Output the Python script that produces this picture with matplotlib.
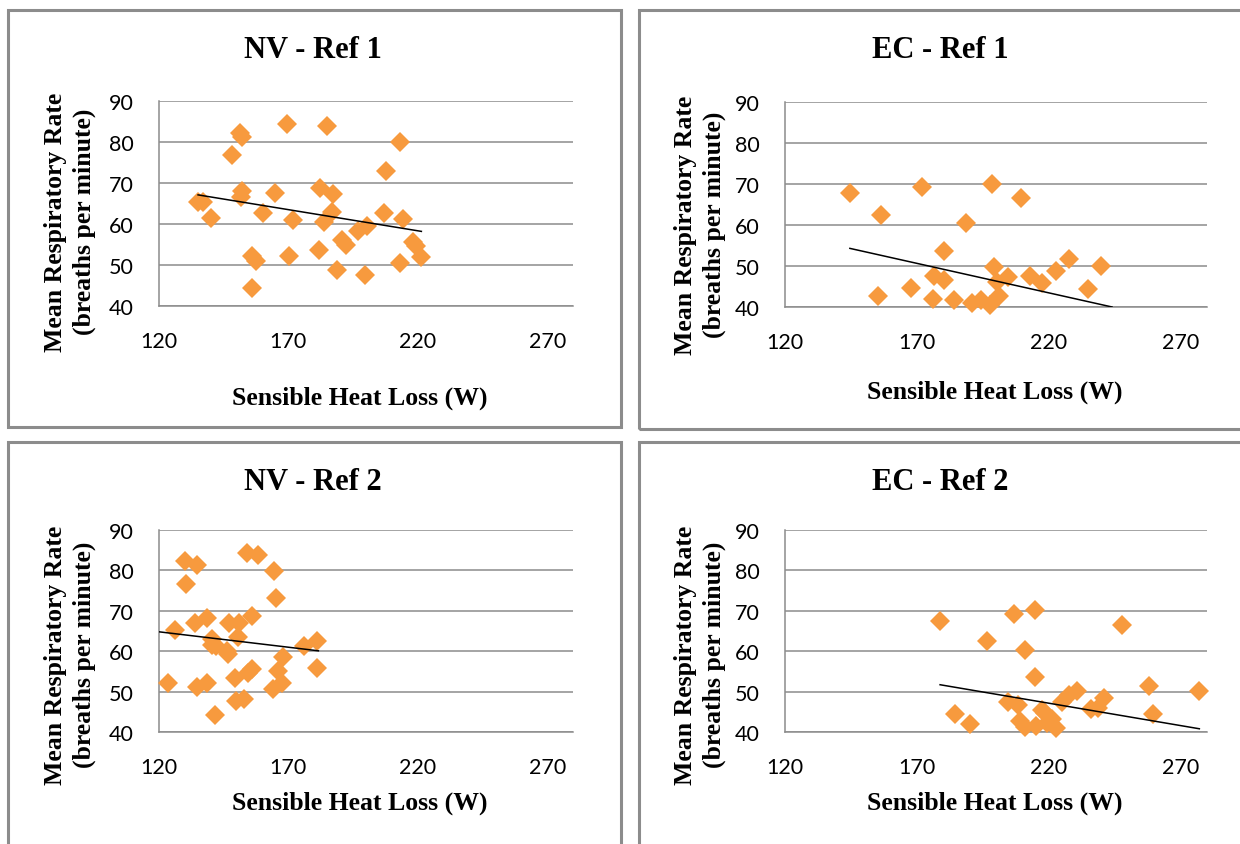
import matplotlib
matplotlib.use("Agg")
import matplotlib.pyplot as plt
from matplotlib.patches import Rectangle

# NV - Ref 1
nv1_x = [135.1, 137.1, 140.0, 151.3, 151.9, 148.3, 152.2, 151.7, 156.0, 157.3,
         156.0, 160.0, 165.0, 169.4, 170.4, 171.7, 181.9, 182.3, 184.9, 187.4,
         186.8, 183.6, 188.7, 190.7, 192.4, 196.9, 200.4, 199.5, 206.8, 207.9,
         213.0, 214.3, 213.0, 218.2, 219.5, 221.4]
nv1_y = [65.3, 65.3, 61.4, 82.3, 81.1, 76.8, 68.1, 66.5, 52.3, 50.9,
         44.5, 62.6, 67.5, 84.3, 52.1, 61.0, 53.7, 68.8, 83.8, 67.3,
         62.9, 60.6, 48.7, 56.0, 55.0, 58.2, 59.4, 47.6, 62.7, 73.0,
         79.9, 61.2, 50.5, 55.7, 54.6, 51.9]
nv1_trend_x = [135.1, 221.4]
nv1_trend_y = [67.1, 58.2]

# EC - Ref 1
ec1_x = [144.6, 156.5, 155.2, 167.7, 171.8, 180.2, 176.6, 180.2, 176.0, 183.9,
         188.7, 190.9, 194.4, 197.6, 198.6, 199.1, 200.2, 201.0, 204.6, 209.4,
         212.9, 217.3, 222.8, 227.5, 234.8, 239.7]
ec1_y = [67.7, 62.5, 42.8, 44.6, 69.2, 53.6, 47.5, 46.5, 42.0, 41.6,
         60.4, 41.0, 41.6, 40.4, 70.0, 49.7, 46.1, 42.8, 47.3, 66.5,
         47.5, 45.8, 48.7, 51.8, 44.5, 50.0]
ec1_trend_x = [144.6, 244.0]
ec1_trend_y = [54.3, 40.0]

# NV - Ref 2
nv2_x = [123.5, 126.1, 129.9, 134.5, 130.6, 133.8, 138.7, 134.5, 138.7, 141.8,
         140.6, 140.3, 142.2, 146.1, 147.1, 146.7, 150.9, 150.6, 149.4, 149.8,
         152.9, 156.0, 153.9, 158.4, 154.5, 155.8, 164.6, 165.1, 163.9, 166.1,
         167.7, 168.0, 176.1, 181.0, 181.0]
nv2_y = [52.1, 65.2, 82.4, 81.4, 76.6, 66.9, 68.2, 51.2, 52.1, 44.2,
         63.0, 61.5, 61.3, 60.1, 67.1, 59.3, 66.9, 63.4, 53.3, 47.7,
         48.1, 68.8, 84.3, 83.8, 54.7, 55.7, 79.8, 73.1, 50.7, 55.1,
         52.1, 58.6, 61.3, 62.6, 55.8]
nv2_trend_x = [120.0, 181.6]
nv2_trend_y = [64.8, 60.1]

# EC - Ref 2
ec2_x = [178.8, 184.6, 190.3, 196.4, 206.9, 214.6, 211.1, 214.6, 204.7, 208.5,
         209.2, 211.1, 215.0, 217.3, 218.6, 221.4, 222.6, 219.5, 224.9, 227.5,
         230.9, 236.0, 238.6, 241.1, 247.9, 258.1, 259.6, 277.1]
ec2_y = [67.4, 44.4, 41.9, 62.6, 69.2, 70.2, 60.3, 53.7, 47.4, 46.6,
         42.7, 41.3, 41.5, 45.5, 44.6, 43.1, 41.1, 42.3, 47.4, 49.1,
         50.2, 45.8, 46.0, 48.3, 66.4, 51.4, 44.4, 50.2]
ec2_trend_x = [178.8, 277.1]
ec2_trend_y = [51.7, 40.8]

titles = ["NV - Ref 1", "EC - Ref 1", "NV - Ref 2", "EC - Ref 2"]
xticks = [120, 170, 220, 270]
yticks = [40, 50, 60, 70, 80, 90]

W, H = 1240, 845
fig = plt.figure(figsize=(W / 100, H / 100), dpi=100)
fig.patch.set_facecolor("white")


def fx(px):
    return px / W


def fy(py):
    return 1 - py / H


# panel frames: left, top, right, bottom in pixels
frames = [(8, 11, 621, 428), (639, 11, 1250, 430),
          (8, 443, 621, 860), (639, 443, 1250, 860)]
for l, t, r, b in frames:
    fig.patches.append(Rectangle((fx(l), fy(b)), fx(r - l), (b - t) / H,
                                 transform=fig.transFigure, fill=False,
                                 edgecolor="#8c8c8c", linewidth=2.2))

# plot areas: left, top, right, bottom in pixels
areas = [(159, 102, 573, 307), (785, 103, 1207, 308),
         (159, 531, 573, 733), (785, 531, 1207, 733)]
series = [(nv1_x, nv1_y, nv1_trend_x, nv1_trend_y),
          (ec1_x, ec1_y, ec1_trend_x, ec1_trend_y),
          (nv2_x, nv2_y, nv2_trend_x, nv2_trend_y),
          (ec2_x, ec2_y, ec2_trend_x, ec2_trend_y)]
title_pos = [(313, 50), (940, 50), (313, 482), (940, 482)]
xlabel_pos = [(360, 398), (995, 392), (360, 803), (995, 803)]
ylabel_pos = [(70, 222), (700, 225), (70, 655), (700, 655)]

serif = "Liberation Serif"
tick_font = "Lato"

for i in range(4):
    l, t, r, b = areas[i]
    ax = fig.add_axes([fx(l), fy(b), (r - l) / W, (b - t) / H])
    x, y, tx, ty = series[i]
    ax.plot(x, y, linestyle="none", marker="D", markersize=10.3,
            color="#F79A3E", markeredgewidth=0, zorder=3, clip_on=False)
    ax.plot(tx, ty, color="black", linewidth=1.1, zorder=4)
    ax.set_xlim(120, 280)
    ax.set_ylim(40, 90)
    ax.set_xticks(xticks)
    ax.set_yticks(yticks)
    ax.grid(axis="y", color="#8c8c8c", linewidth=1.1)
    ax.set_axisbelow(True)
    for s in ["top", "right"]:
        ax.spines[s].set_visible(False)
    for s in ["left", "bottom"]:
        ax.spines[s].set_color("#8c8c8c")
        ax.spines[s].set_linewidth(1.1)
    ax.tick_params(length=0, pad=18, labelsize=15.5, labelcolor="black")
    for lab in ax.get_xticklabels() + ax.get_yticklabels():
        lab.set_fontfamily(tick_font)

    cx, cy = title_pos[i]
    fig.text(fx(cx), fy(cy), titles[i], ha="center", va="center",
             family=serif, weight="bold", fontsize=22)
    cx, cy = xlabel_pos[i]
    fig.text(fx(cx), fy(cy), "Sensible Heat Loss (W)", ha="center",
             va="center", family=serif, weight="bold", fontsize=18.5)
    cx, cy = ylabel_pos[i]
    fig.text(fx(cx), fy(cy), "Mean Respiratory Rate\n(breaths per minute)",
             ha="center", va="center", rotation=90, family=serif,
             weight="bold", fontsize=18.5, linespacing=1.3,
             multialignment="center")

fig.savefig("out.png", dpi=100)
